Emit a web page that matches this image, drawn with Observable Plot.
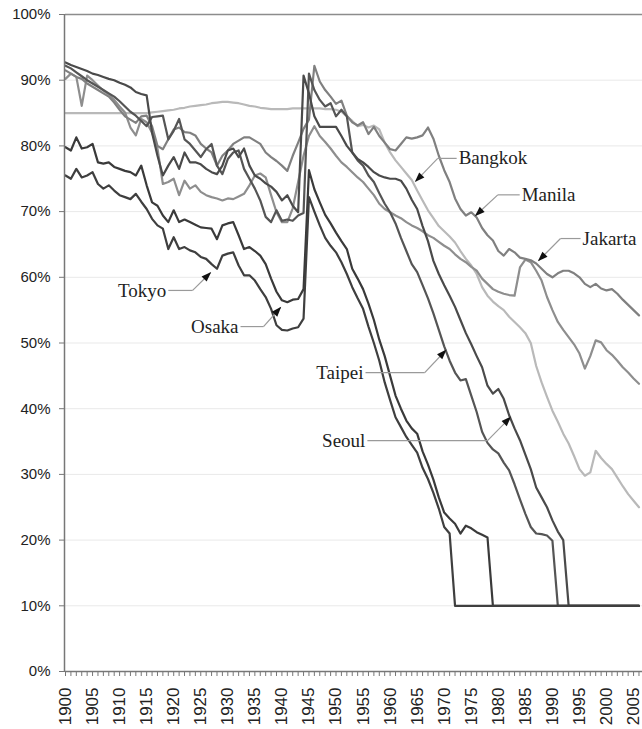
<!DOCTYPE html>
<html><head><meta charset="utf-8">
<script src="https://cdn.jsdelivr.net/npm/d3@7"></script>
<script src="https://cdn.jsdelivr.net/npm/@observablehq/plot@0.6"></script>
<style>
html,body{margin:0;padding:0;background:#fff;}
#chart svg{display:block;}
</style>
</head><body><div id="chart"></div>
<script>
// ---- data (share, %) ----
const years = d3.range(1900, 2007); // 1900 … 2006

const cities = ["Bangkok", "Jakarta", "Manila", "Taipei", "Seoul", "Osaka", "Tokyo"];
const cityColors = ["#b9b9b9", "#8e8e8e", "#808080", "#555555", "#4a4a4a", "#3a3a3a", "#3f3f3f"];

const tokyo = [
  75.5,75.0,76.5,75.2,75.5,76.0,74.2,73.5,74.0,73.2,
  72.5,72.2,71.9,72.7,71.5,70.4,68.9,67.9,67.4,64.3,
  66.1,64.3,64.6,64.1,63.8,63.1,62.8,62.0,61.3,63.3,
  63.6,63.8,61.8,60.3,60.3,59.5,58.2,57.0,55.2,52.7,
  52.0,51.9,52.2,52.4,53.7,72.2,70.0,67.9,66.0,64.8,
  63.8,62.3,60.5,58.5,56.8,55.2,52.5,50.0,47.3,44.0,
  41.3,38.7,37.2,35.7,34.5,33.3,31.0,29.3,27.2,24.8,
  22.0,21.0,10,10,10,10,10,10,10,10,
  10,10,10,10,10,10,10,10,10,10,
  10,10,10,10,10,10,10,10,10,10,
  10,10,10,10,10,10,10
];
const osaka = [
  79.8,79.3,81.3,79.6,79.8,80.3,77.5,77.3,77.5,76.8,
  76.5,76.2,76.0,75.5,77.0,74.0,71.4,70.9,69.4,68.4,
  70.2,68.4,68.8,68.4,68.0,67.6,67.5,67.4,65.8,67.9,
  68.2,68.4,66.4,64.3,64.6,64.0,63.3,62.0,59.8,57.8,
  56.5,56.2,56.6,56.7,58.2,76.3,73.4,71.4,69.5,68.2,
  66.8,65.5,64.3,61.3,59.8,58.2,56.0,53.5,50.5,48.0,
  45.0,42.0,40.0,38.2,37.0,36.2,33.5,31.5,29.2,26.5,
  24.2,23.3,22.5,21.0,22.2,21.8,21.2,20.8,20.4,10,
  10,10,10,10,10,10,10,10,10,10,
  10,10,10,10,10,10,10,10,10,10,
  10,10,10,10,10,10,10
];
const seoul = [
  92.7,92.3,92.0,91.7,91.4,91.0,90.8,90.5,90.2,90.0,
  89.6,89.3,88.9,88.2,87.9,87.7,82.0,78.5,75.5,77.0,
  78.3,76.5,79.0,77.5,77.5,77.2,76.5,76.0,75.7,77.0,
  79.3,79.6,78.3,79.6,77.0,75.5,75.0,74.3,73.8,73.0,
  71.7,72.5,70.9,69.9,90.7,88.0,84.5,82.9,82.9,82.9,
  82.9,81.5,80.0,79.0,78.0,77.5,76.8,76.0,75.5,75.2,
  75.0,75.0,74.7,73.5,71.8,70.4,67.8,65.5,62.5,60.5,
  58.8,57.2,55.5,53.5,51.5,49.8,48.0,46.3,43.5,42.3,
  43.0,41.5,39.0,37.0,35.2,33.0,30.8,28.0,26.5,25.0,
  23.0,21.3,20.0,10,10,10,10,10,10,10,
  10,10,10,10,10,10,10
];
const taipei = [
  92.2,91.8,91.2,90.6,90.0,89.5,89.0,88.5,88.0,87.5,
  86.8,86.0,85.2,84.6,83.8,83.0,84.4,84.5,84.6,81.0,
  82.3,84.1,81.0,80.3,79.3,78.3,79.5,80.3,77.0,75.7,
  78.0,79.0,79.3,76.5,75.0,73.5,71.7,69.2,68.4,70.2,
  68.6,68.8,68.6,69.4,69.8,91.0,88.5,87.0,86.0,86.5,
  84.5,85.5,84.5,79.0,77.8,77.0,75.5,74.5,72.8,71.2,
  69.9,68.2,66.0,64.0,62.0,60.8,58.8,56.8,54.5,52.0,
  49.5,47.3,45.5,44.3,44.5,42.0,39.5,36.5,34.8,33.8,
  33.2,31.8,30.6,28.5,26.2,24.0,22.0,21.0,20.9,20.7,
  19.9,10,10,10,10,10,10,10,10,10,
  10,10,10,10,10,10,10
];
const bangkok = [
  85.0,85.0,85.0,85.0,85.0,85.0,85.0,85.0,85.0,85.0,
  85.0,85.0,85.0,85.0,85.0,85.0,85.1,85.2,85.3,85.4,
  85.5,85.7,85.8,86.0,86.1,86.2,86.3,86.5,86.6,86.7,
  86.7,86.6,86.5,86.3,86.1,86.0,85.8,85.7,85.6,85.6,
  85.6,85.6,85.7,85.7,85.7,85.7,85.7,85.7,85.6,85.6,
  85.5,85.2,84.5,83.8,83.0,83.2,82.8,83.1,82.5,80.5,
  79.0,77.8,76.8,75.8,74.8,73.2,71.7,70.2,69.0,67.8,
  67.0,66.2,65.3,64.0,62.8,61.8,60.5,58.5,57.2,56.3,
  55.6,55.0,54.0,53.2,52.4,51.5,50.0,46.5,44.0,41.8,
  39.7,38.0,36.2,34.7,32.8,30.8,29.8,30.3,33.6,32.5,
  31.6,30.8,29.5,28.2,27.0,26.0,25.0
];
const manila = [
  91.5,91.0,90.5,90.2,89.5,89.0,88.5,88.0,87.5,86.6,
  85.5,84.5,84.0,83.5,84.5,84.6,83.0,80.0,79.5,81.0,
  82.5,82.8,82.1,82.0,81.6,80.3,79.6,79.0,77.0,78.5,
  79.3,80.3,80.8,81.3,81.3,80.8,80.3,79.0,78.3,77.7,
  77.0,76.2,78.5,80.5,82.6,84.0,92.2,89.8,88.5,87.5,
  86.4,86.9,84.6,83.6,83.1,83.6,81.8,82.9,81.5,80.5,
  79.5,79.3,80.3,81.3,81.1,81.3,81.6,82.8,81.1,78.5,
  76.3,74.5,72.0,70.4,69.4,69.9,69.1,67.5,66.4,65.6,
  64.0,63.3,64.3,63.8,63.0,62.8,62.6,62.1,61.3,60.5,
  60.0,60.6,61.0,61.0,60.6,60.0,59.0,58.5,59.0,58.3,
  58.0,58.2,57.5,56.6,55.8,55.0,54.2
];
const jakarta = [
  90.2,91.0,90.5,86.1,90.7,90.0,89.2,88.4,87.8,87.0,
  86.0,85.1,82.8,81.6,84.1,83.6,82.0,79.6,74.2,74.5,
  75.0,72.5,74.7,73.5,74.0,73.0,72.5,72.2,72.0,71.7,
  72.0,71.9,72.3,72.7,74.0,75.5,75.8,75.2,72.5,69.9,
  68.4,68.4,70.5,74.5,78.5,81.5,83.0,81.5,80.6,79.6,
  78.5,77.5,76.8,76.0,75.2,74.5,73.5,72.5,71.2,70.4,
  69.9,69.4,69.0,68.4,67.9,67.5,67.0,66.4,66.0,65.4,
  64.8,64.3,63.5,62.8,62.3,61.6,61.0,59.8,59.0,58.2,
  57.8,57.5,57.3,57.2,61.5,62.7,62.3,61.0,59.5,57.0,
  55.0,53.2,52.0,50.9,49.8,48.4,46.1,48.0,50.4,50.1,
  48.9,48.2,47.3,46.3,45.5,44.6,43.8
];

const yTicks = [0, 10, 20, 30, 40, 50, 60, 70, 80, 90, 100];
const xLabelYears = d3.range(1900, 2006, 5);

// annotation callouts (label point, elbow, arrow tip) in chart units: year, %
const annoName  = ["Tokyo", "Osaka", "Bangkok", "Manila", "Jakarta", "Taipei", "Seoul"];
const annoLabel = [[1919.0, 58.0], [1932.35, 52.5], [1972.3, 78.1], [1983.95, 72.55], [1995.2, 65.9], [1955.45, 45.5], [1955.8, 35.15]];
const annoElbow = [[1923.5, 58.0], [1936.6, 52.5], [1968.8, 78.1], [1979.9, 72.55], [1991.5, 65.9], [1966.4, 45.5], [1978.0, 35.15]];
const annoTip   = [[1926.8, 60.7], [1939.75, 55.4], [1964.7, 74.6], [1975.8, 69.4], [1987.45, 62.55], [1970.3, 48.9], [1982.25, 38.7]];

// ---- build tables ----
const seriesValues = {Bangkok: bangkok, Jakarta: jakarta, Manila: manila, Taipei: taipei, Seoul: seoul, Osaka: osaka, Tokyo: tokyo};
const rows = cities.flatMap(c => years.map((yr, i) => ({city: c, year: yr, value: seriesValues[c][i]})));
const annos = annoName.map((n, i) => ({
  name: n, lx: annoLabel[i][0], ly: annoLabel[i][1],
  ex: annoElbow[i][0], ey: annoElbow[i][1],
  tx: annoTip[i][0], ty: annoTip[i][1]
}));
const leftLabels = annos.filter(a => a.ex > a.lx);
const rightLabels = annos.filter(a => a.ex < a.lx);

const chart = Plot.plot({
  width: 642,
  height: 729,
  marginLeft: 65,
  marginRight: 0,
  marginTop: 14,
  marginBottom: 58,
  style: {fontFamily: "'Liberation Sans', Arial, sans-serif", fontSize: "15px", background: "#fff", color: "#222"},
  x: {domain: [1900, 2006.65], label: null},
  y: {domain: [0, 100], label: null},
  color: {domain: cities, range: cityColors},
  marks: [
    Plot.gridY(yTicks.filter(t => t > 0 && t < 100), {stroke: "#e9e9e9", strokeOpacity: 1}),
    Plot.ruleY([100], {stroke: "#8c8c8c", strokeWidth: 1.6}),
    Plot.line(rows, {x: "year", y: "value", z: "city", stroke: "city", strokeWidth: 2.2, strokeLinejoin: "round"}),
    Plot.ruleY([0], {stroke: "#777", strokeWidth: 1.5}),
    Plot.ruleX([1900], {dx: -1, stroke: "#777", strokeWidth: 1.5}),
    Plot.axisY({ticks: yTicks, tickFormat: d => d + "%", tickSize: 6, tickPadding: 9, fontSize: 15, stroke: "#777", fill: "#222", label: null}),
    Plot.axisX({ticks: years, tickSize: 5, tickFormat: () => "", stroke: "#777", label: null}),
    Plot.axisX({ticks: xLabelYears, tickSize: 0, tickPadding: 16, tickRotate: -90, tickFormat: d => String(d), fontSize: 17, fill: "#222", label: null}),
    Plot.link(annos, {x1: "lx", y1: "ly", x2: "ex", y2: "ey", stroke: "#9a9a9a", strokeWidth: 1.2}),
    Plot.link(annos, {x1: "ex", y1: "ey", x2: "tx", y2: "ty", stroke: "#9a9a9a", strokeWidth: 1.2, markerEnd: "arrow"}),
    Plot.text(leftLabels, {x: "lx", y: "ly", text: "name", textAnchor: "end", dx: -2, fontFamily: "'Liberation Serif', 'Times New Roman', serif", fontSize: 19, fill: "#222"}),
    Plot.text(rightLabels, {x: "lx", y: "ly", text: "name", textAnchor: "start", dx: 2, fontFamily: "'Liberation Serif', 'Times New Roman', serif", fontSize: 19, fill: "#222"})
  ]
});

// filled arrowheads for the callouts
chart.querySelectorAll("marker").forEach(m => {
  m.setAttribute("viewBox", "-10 -5 12 10");
  m.setAttribute("markerWidth", 12);
  m.setAttribute("markerHeight", 10);
  m.setAttribute("markerUnits", "userSpaceOnUse");
  m.setAttribute("fill", "#111");
  m.setAttribute("stroke", "none");
  const p = m.querySelector("path");
  if (p) p.setAttribute("d", "M-9,-3.6L1,0L-9,3.6Z");
});

document.getElementById("chart").append(chart);
</script>
</body></html>
